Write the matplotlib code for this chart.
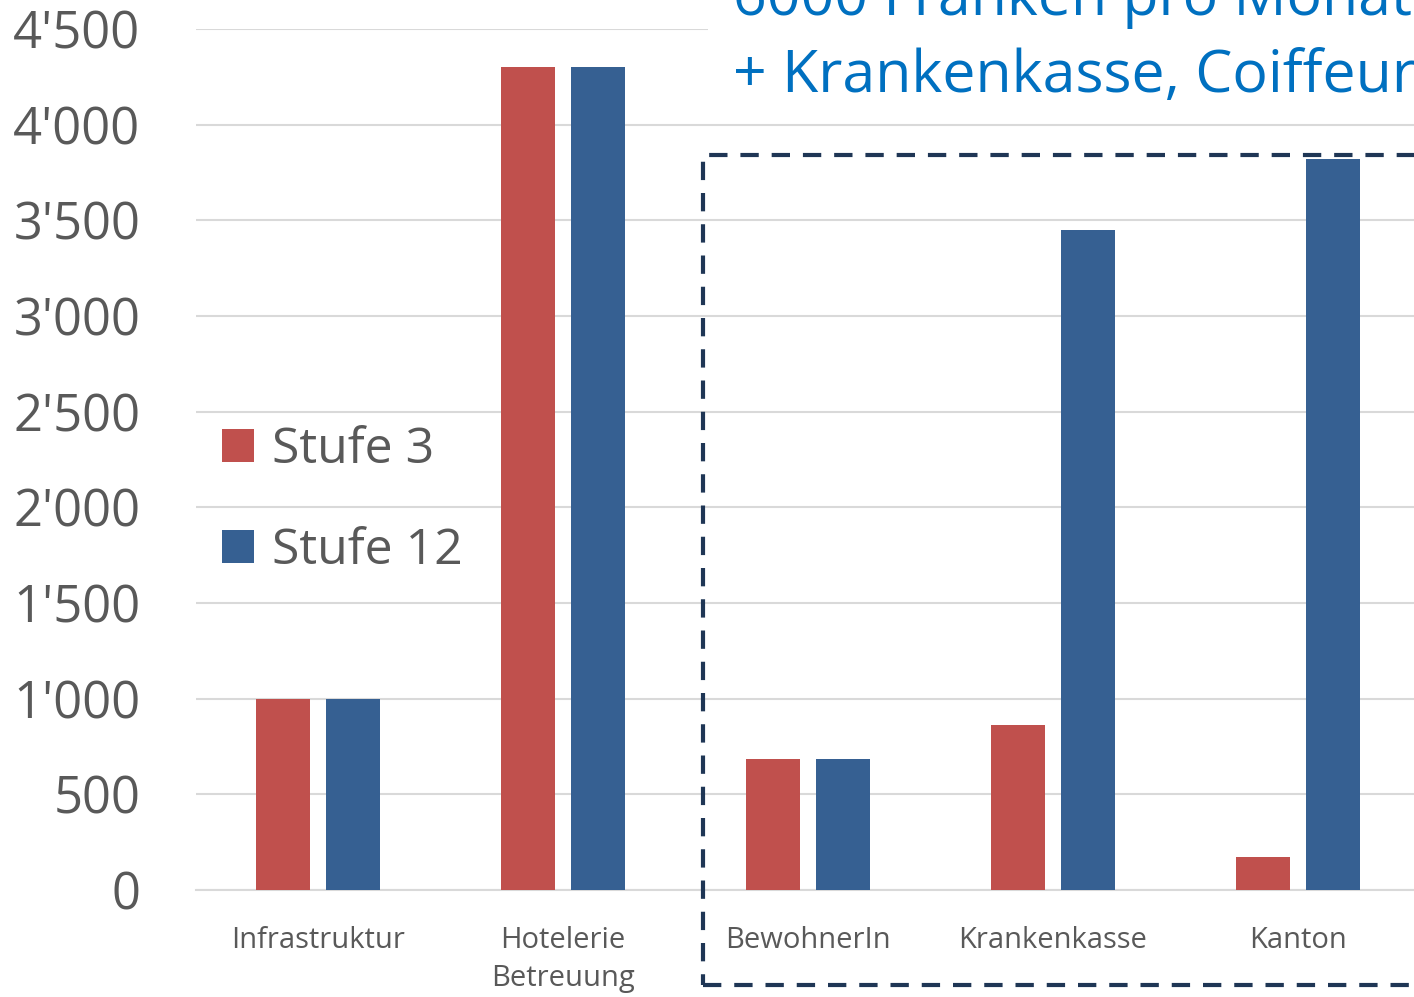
import matplotlib.pyplot as plt
import numpy as np
from matplotlib.patches import Rectangle
from matplotlib.ticker import FuncFormatter

plt.rcParams['font.family'] = ['Open Sans', 'DejaVu Sans']

# --- data ---
categories = ['Infrastruktur', 'Hotelerie\nBetreuung', 'BewohnerIn', 'Krankenkasse', 'Kanton']
stufe_3 = [1000, 4300, 685, 860, 170]
stufe_12 = [1000, 4300, 685, 3450, 3820]
series_names = ['Stufe 3', 'Stufe 12']
yticks = [0, 500, 1000, 1500, 2000, 2500, 3000, 3500, 4000, 4500]
note_lines = ['6000 Franken pro Monat', '+ Krankenkasse, Coiffeur']

red = '#C0504D'
blue = '#366092'
grey = '#595959'

W, H = 1414, 997
fig = plt.figure(figsize=(W / 100, H / 100), dpi=100)
ax = fig.add_axes([196 / W, 1 - 890 / H, 1224 / W, (890 - 29) / H])

x = np.arange(len(categories))
bw = 0.22
off = 0.143
ax.bar(x - off, stufe_3, bw, color=red, label=series_names[0], zorder=3)
ax.bar(x + off, stufe_12, bw, color=blue, label=series_names[1], zorder=3)

ax.set_xlim(-0.5, len(categories) - 0.5)
ax.set_ylim(0, 4500)
ax.set_yticks(yticks)
ax.yaxis.set_major_formatter(FuncFormatter(lambda v, p: f"{int(v):,}".replace(',', "'")))
ax.set_xticks(x)
ax.set_xticklabels(categories, linespacing=1.42)

ax.grid(axis='y', color='#D9D9D9', lw=1.5, zorder=0)
for s in ['left', 'right', 'top']:
    ax.spines[s].set_visible(False)
ax.spines['bottom'].set_color('#D9D9D9')
ax.spines['bottom'].set_linewidth(1.5)
ax.tick_params(axis='y', length=0, pad=40, labelsize=36.5, labelcolor=grey)
ax.tick_params(axis='x', length=0, pad=26, labelsize=21, labelcolor=grey)

leg = ax.legend(loc='upper left', bbox_to_anchor=(-0.0075, 0.58), frameon=False,
                fontsize=36, labelcolor=grey, handlelength=0.64, handleheight=0.64,
                handletextpad=0.36, labelspacing=1.02, borderaxespad=0.3)

# white panel behind the note, dashed box
fig.patches.append(Rectangle((708 / W, 1 - 108 / H), (W - 708) / W, 108 / H,
                             transform=fig.transFigure, facecolor='white',
                             edgecolor='none', zorder=2))
fig.patches.append(Rectangle((703 / W, 1 - 985 / H), 740 / W, (985 - 155) / H,
                             transform=fig.transFigure, fill=False,
                             edgecolor='#1F3655', lw=3, linestyle=(0, (4.4, 3.1)),
                             zorder=4))
fig.text(733 / W, 1 - 15 / H, note_lines[0], color='#0070C0', fontsize=42.5,
         va='baseline', ha='left', zorder=5)
fig.text(733 / W, 1 - 92 / H, note_lines[1], color='#0070C0', fontsize=42.5,
         va='baseline', ha='left', zorder=5)

fig.savefig('out.png', dpi=100)
